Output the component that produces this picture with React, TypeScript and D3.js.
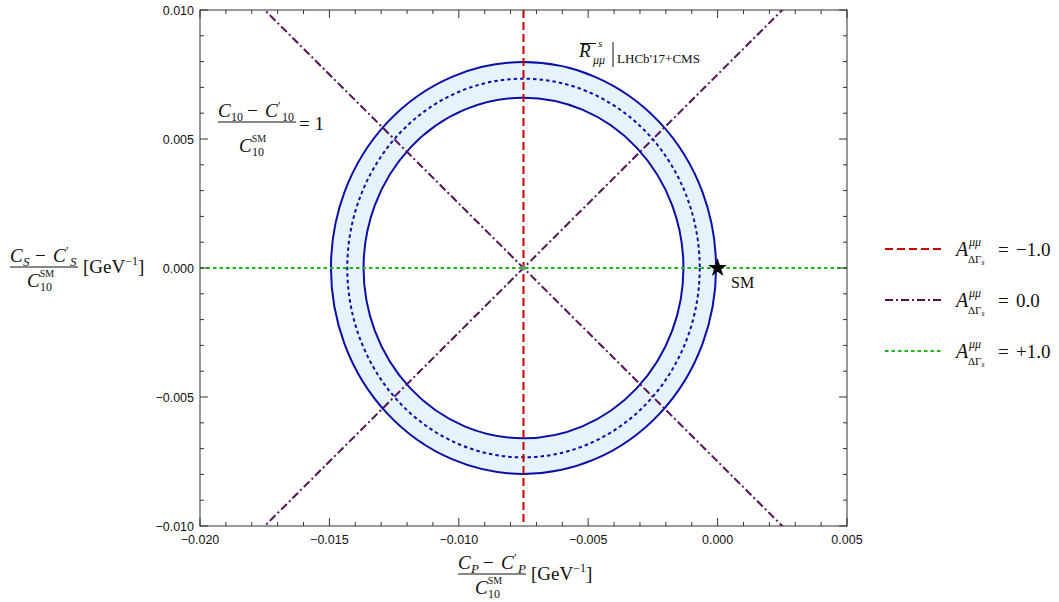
import React from "react";
import * as d3 from "d3";

const xDomain = [-0.02, 0.005];
const yDomain = [-0.01, 0.01];
const xTicks = [-0.02, -0.015, -0.01, -0.005, 0, 0.005];
const yTicks = [-0.01, -0.005, 0, 0.005, 0.01];
const xTickLabels = ["\u22120.020", "\u22120.015", "\u22120.010", "\u22120.005", "0.000", "0.005"];
const yTickLabels = ["\u22120.010", "\u22120.005", "0.000", "0.005", "0.010"];
const minorStep = 0.001;
const center = [-0.0075, 0];
const ringRx = [0.00744, 0.00681, 0.00618]; // outer, central, inner
const ringRy = [0.00798, 0.00734, 0.0066];
const diagSlopes = [1, -1];
const smPoint = [0, 0];
const legendValues = ["\u22121.0", "0.0", "+1.0"];

const W = 1059, H = 602;
const L = 200, R = 847, T = 10, B = 526;
const BLUE = "#0a0fa8";
const FILL = "#e6f3fd";
const RED = "#c80000";
const PURPLE = "#55105a";
const GREEN = "#1cb51c";
const SERIF = "'Liberation Serif', 'DejaVu Serif', serif";
const SANS = "'Liberation Sans', Arial, sans-serif";
const INK = "#111";
const MS = 19;

// numerator "C_a − C'_a" laid out from left x0 at baseline yb, as one text
function Numer({ x0, yb, sub, subItalic }: { x0: number; yb: number; sub: string; subItalic: boolean }) {
  const fs = subItalic ? 13 : 12;
  const fst = subItalic ? "italic" : "normal";
  const subW = subItalic ? 8 : 12;
  const c2 = x0 + 13 + subW + 22;
  return (
    <text x={x0} y={yb} fontFamily={SERIF} fill={INK} fontSize={MS}>
      <tspan fontStyle="italic">C</tspan>
      <tspan x={x0 + 13} y={yb + 4} fontSize={fs} fontStyle={fst}>{sub}</tspan>
      <tspan x={x0 + 13 + subW + 4} y={yb}>{"\u2212"}</tspan>
      <tspan x={c2} y={yb} fontStyle="italic">C</tspan>
      <tspan x={c2 + 13} y={yb - 7} fontSize={12}>{"\u2032"}</tspan>
      <tspan x={c2 + 17} y={yb + 4} fontSize={fs} fontStyle={fst}>{sub}</tspan>
    </text>
  );
}

function Denom({ x0, yb }: { x0: number; yb: number }) {
  return (
    <text x={x0} y={yb} fontFamily={SERIF} fill={INK} fontSize={MS}>
      <tspan fontStyle="italic">C</tspan>
      <tspan fontSize={10} dy={-10}>SM</tspan>
      <tspan fontSize={12} x={x0 + 13} dy={14}>10</tspan>
    </text>
  );
}

function GeV({ x0, yb }: { x0: number; yb: number }) {
  return (
    <text x={x0} y={yb} fontFamily={SERIF} fontSize={MS} fill={INK}>
      [GeV<tspan fontSize={12} dy={-8}>{"\u2212"}1</tspan>
      <tspan dy={8}>]</tspan>
    </text>
  );
}

export default function App() {
  const x = d3.scaleLinear().domain(xDomain).range([L, R]);
  const y = d3.scaleLinear().domain(yDomain).range([B, T]);
  const cx = x(center[0]), cy = y(center[1]);
  const rxPx = ringRx.map((r) => x(center[0] + r) - cx);
  const ryPx = ringRy.map((r) => cy - y(center[1] + r));

  const minorX = d3.range(xDomain[0], xDomain[1] + 1e-9, minorStep);
  const minorY = d3.range(yDomain[0], yDomain[1] + 1e-9, minorStep);

  const diag = diagSlopes.map((m) => {
    const x0 = -0.03, x1 = 0.015;
    return [
      [x(x0), y(center[1] + m * (x0 - center[0]))],
      [x(x1), y(center[1] + m * (x1 - center[0]))],
    ];
  });

  const star = d3.symbol(d3.symbolStar).size(110)();

  const legendColors = [RED, PURPLE, GREEN];
  const legendDash = ["8,4", "8,3,2,3", "3.5,3"];
  const legendY = [249, 300, 351];

  return (
    <svg width={W} height={H} style={{ position: "absolute", left: 0, top: 0, background: "#fff" }}>
      <defs>
        <clipPath id="plot">
          <rect x={L} y={T} width={R - L} height={B - T} />
        </clipPath>
      </defs>
      <g clipPath="url(#plot)">
        <ellipse cx={cx} cy={cy} rx={rxPx[0]} ry={ryPx[0]} fill={FILL} stroke="none" />
        <ellipse cx={cx} cy={cy} rx={rxPx[2]} ry={ryPx[2]} fill="#fff" stroke="none" />
        <ellipse cx={cx} cy={cy} rx={rxPx[0]} ry={ryPx[0]} fill="none" stroke={BLUE} strokeWidth={2} />
        <ellipse cx={cx} cy={cy} rx={rxPx[2]} ry={ryPx[2]} fill="none" stroke={BLUE} strokeWidth={2} />
        <ellipse cx={cx} cy={cy} rx={rxPx[1]} ry={ryPx[1]} fill="none" stroke={BLUE} strokeWidth={2} strokeDasharray="3.5,3" />
        {diag.map((d, i) => (
          <line key={i} x1={d[0][0]} y1={d[0][1]} x2={d[1][0]} y2={d[1][1]} stroke={PURPLE} strokeWidth={2} strokeDasharray="8,3,2,3" />
        ))}
        <line x1={cx} y1={T} x2={cx} y2={B} stroke={RED} strokeWidth={2} strokeDasharray="8,4" />
        <line x1={L} y1={cy} x2={R} y2={cy} stroke={GREEN} strokeWidth={2} strokeDasharray="3.5,3" />
        <circle cx={cx} cy={cy} r={2.5} fill="#6a9a6a" />
        <path d={star!} transform={`translate(${x(smPoint[0])},${y(smPoint[1])})`} fill="#000" />
      </g>

      {/* frame */}
      <rect x={L} y={T} width={R - L} height={B - T} fill="none" stroke="#333" strokeWidth={1} />
      {minorX.map((v, i) => {
        const major = Math.abs(v / 0.005 - Math.round(v / 0.005)) < 1e-6;
        const len = major ? 8 : 4;
        return (
          <g key={"mx" + i} stroke="#333" strokeWidth={1}>
            <line x1={x(v)} x2={x(v)} y1={B} y2={B - len} />
            <line x1={x(v)} x2={x(v)} y1={T} y2={T + len} />
          </g>
        );
      })}
      {minorY.map((v, i) => {
        const major = Math.abs(v / 0.005 - Math.round(v / 0.005)) < 1e-6;
        const len = major ? 8 : 4;
        return (
          <g key={"my" + i} stroke="#333" strokeWidth={1}>
            <line x1={L} x2={L + len} y1={y(v)} y2={y(v)} />
            <line x1={R} x2={R - len} y1={y(v)} y2={y(v)} />
          </g>
        );
      })}
      {xTicks.map((v, i) => (
        <text key={"xt" + i} x={x(v)} y={B + 18} textAnchor="middle" fontFamily={SANS} fontSize={12.5} fill={INK}>
          {xTickLabels[i]}
        </text>
      ))}
      {yTicks.map((v, i) => (
        <text key={"yt" + i} x={L - 6} y={y(v) + 4.5} textAnchor="end" fontFamily={SANS} fontSize={12.5} fill={INK}>
          {yTickLabels[i]}
        </text>
      ))}

      {/* y axis label */}
      <Numer x0={10} yb={262} sub="S" subItalic={true} />
      <line x1={10} x2={78} y1={267} y2={267} stroke={INK} strokeWidth={1} />
      <Denom x0={27} yb={287} />
      <GeV x0={83} yb={273} />

      {/* x axis label */}
      <Numer x0={458} yb={569} sub="P" subItalic={true} />
      <line x1={458} x2={526} y1={574} y2={574} stroke={INK} strokeWidth={1} />
      <Denom x0={475} yb={594} />
      <GeV x0={531} yb={580} />

      {/* C10 annotation */}
      <Numer x0={218} yb={117} sub="10" subItalic={false} />
      <line x1={218} x2={296} y1={122} y2={122} stroke={INK} strokeWidth={1} />
      <Denom x0={239} yb={152} />
      <text x={299} y={130} fontFamily={SERIF} fontSize={MS} fill={INK}>= 1</text>

      {/* R annotation */}
      <g fontFamily={SERIF} fill={INK}>
        <line x1={580} x2={596} y1={43.5} y2={43.5} stroke={INK} strokeWidth={1} />
        <text x={579} y={57} fontSize={MS} fontStyle="italic">R</text>
        <text x={598} y={47} fontSize={11} fontStyle="italic">s</text>
        <text x={593} y={64} fontSize={12} fontStyle="italic">{"\u03bc\u03bc"}</text>
        <line x1={613} x2={613} y1={42} y2={67} stroke={INK} strokeWidth={1} />
        <text x={617} y={63} fontSize={12} textLength={83} lengthAdjust="spacingAndGlyphs">LHCb'17+CMS</text>
      </g>

      {/* SM label */}
      <text x={731} y={288} fontFamily={SERIF} fontSize={16} fill={INK}>SM</text>

      {/* legend */}
      {legendValues.map((v, i) => (
        <g key={"lg" + i} fontFamily={SERIF} fill={INK}>
          <line x1={885} x2={942} y1={legendY[i]} y2={legendY[i]} stroke={legendColors[i]} strokeWidth={2} strokeDasharray={legendDash[i]} />
          <text x={956} y={legendY[i] + 7} fontSize={MS + 1} fontStyle="italic">A</text>
          <text x={969} y={legendY[i] - 3} fontSize={12} fontStyle="italic">{"\u03bc\u03bc"}</text>
          <text x={968} y={legendY[i] + 14} fontSize={11}>
            {"\u0394\u0393"}<tspan fontStyle="italic" fontSize={8} dy={2}>s</tspan>
          </text>
          <text x={998} y={legendY[i] + 7} fontSize={MS}>=</text>
          <text x={1016} y={legendY[i] + 7} fontSize={MS}>{v}</text>
        </g>
      ))}
    </svg>
  );
}
